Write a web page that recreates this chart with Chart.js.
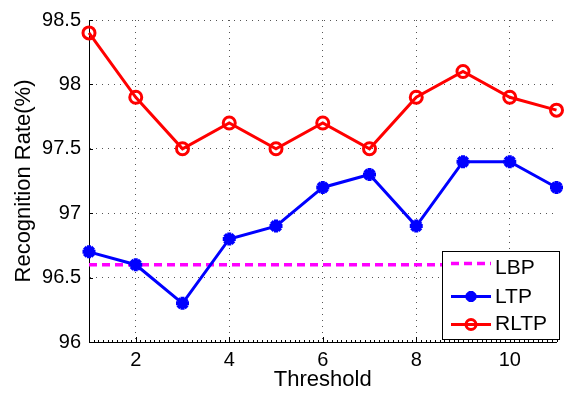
<!DOCTYPE html>
<html>
<head>
<meta charset="utf-8">
<script src="https://cdn.jsdelivr.net/npm/chart.js@4/dist/chart.umd.min.js"></script>
<style>
  html, body { margin: 0; padding: 0; background: #fff; }
  #wrap { width: 567px; height: 394px; }
</style>
</head>
<body>
<div id="wrap"><canvas id="c" width="567" height="394"></canvas></div>
<script>
const thresholds = [1, 2, 3, 4, 5, 6, 7, 8, 9, 10, 11];
const lbp  = [96.6, 96.6, 96.6, 96.6, 96.6, 96.6, 96.6, 96.6, 96.6, 96.6, 96.6];
const ltp  = [96.7, 96.6, 96.3, 96.8, 96.9, 97.2, 97.3, 96.9, 97.4, 97.4, 97.2];
const rltp = [98.4, 97.9, 97.5, 97.7, 97.5, 97.7, 97.5, 97.9, 98.1, 97.9, 97.8];
const xTicks = [2, 4, 6, 8, 10];
const yTicks = [96, 96.5, 97, 97.5, 98, 98.5];
const seriesNames = ['LBP', 'LTP', 'RLTP'];

const FONT = 'Liberation Sans, Arial, Helvetica, sans-serif';
const toXY = arr => thresholds.map((t, i) => ({ x: t, y: arr[i] }));

const axisTicksPlugin = {
  id: 'axisTicks',
  afterDatasetsDraw(chart) {
    const ctx = chart.ctx;
    const xs = chart.scales.x, ys = chart.scales.y;
    const area = chart.chartArea;
    ctx.save();
    ctx.strokeStyle = '#000';
    ctx.lineWidth = 1;
    ctx.beginPath();
    for (let k = 10; k <= 110; k++) {
      const px = Math.round(xs.getPixelForValue(k / 10)) + 0.5;
      ctx.moveTo(px, area.bottom);
      ctx.lineTo(px, area.bottom - 2);
    }
    xTicks.forEach(v => {
      const px = Math.round(xs.getPixelForValue(v)) + 0.5;
      ctx.moveTo(px, area.bottom);
      ctx.lineTo(px, area.bottom - 5);
    });
    yTicks.forEach(v => {
      const py = Math.round(ys.getPixelForValue(v)) + 0.5;
      ctx.moveTo(area.left, py);
      ctx.lineTo(area.left + 4, py);
    });
    ctx.stroke();
    ctx.restore();
  }
};

const boxedLegendPlugin = {
  id: 'boxedLegend',
  afterDatasetsDraw(chart) {
    const ctx = chart.ctx;
    const bx = 442.5, by = 251.5, bw = 117, bh = 88;
    ctx.save();
    ctx.fillStyle = '#fff';
    ctx.strokeStyle = '#000';
    ctx.lineWidth = 1;
    ctx.fillRect(bx, by, bw, bh);
    ctx.strokeRect(bx, by, bw, bh);
    const lineY = [263.5, 296.5, 324.5];
    const textY = [268.5, 297, 324.5];
    chart.data.datasets.forEach((ds, i) => {
      ctx.save();
      ctx.strokeStyle = ds.borderColor;
      ctx.lineWidth = ds.borderWidth;
      ctx.setLineDash(ds.borderDash || []);
      ctx.beginPath();
      ctx.moveTo(451, lineY[i]);
      ctx.lineTo(491, lineY[i]);
      ctx.stroke();
      ctx.setLineDash([]);
      if (ds.pointRadius > 0) {
        ctx.strokeStyle = ds.pointBorderColor;
        ctx.fillStyle = ds.pointBackgroundColor;
        ctx.lineWidth = ds.pointBorderWidth;
        Chart.helpers.drawPoint(ctx, {
          pointStyle: ds.pointStyle,
          radius: ds.pointRadius - 1,
          rotation: 0,
          borderWidth: ds.pointBorderWidth
        }, 471, lineY[i]);
        if (ds.pointStyle === 'star') {
          ctx.beginPath();
          ctx.arc(471, lineY[i], 3.5, 0, Math.PI * 2);
          ctx.fillStyle = ds.pointBorderColor;
          ctx.fill();
        }
      }
      ctx.restore();
      ctx.fillStyle = '#000';
      ctx.font = '21px ' + FONT;
      ctx.textAlign = 'left';
      ctx.textBaseline = 'middle';
      ctx.fillText(ds.label, 495, textY[i]);
    });
    ctx.restore();
  }
};

new Chart(document.getElementById('c'), {
  type: 'line',
  data: {
    datasets: [
      {
        label: seriesNames[0],
        data: toXY(lbp),
        borderColor: '#ff00ff',
        backgroundColor: '#ff00ff',
        borderWidth: 3.5,
        borderDash: [8, 5],
        pointRadius: 0,
        order: 3,
        clip: false
      },
      {
        label: seriesNames[1],
        data: toXY(ltp),
        borderColor: '#0000ff',
        backgroundColor: '#0000ff',
        borderWidth: 3,
        pointStyle: 'star',
        pointRadius: 6.5,
        pointBorderWidth: 4,
        pointBorderColor: '#0000ff',
        pointBackgroundColor: '#0000ff',
        order: 2,
        clip: false
      },
      {
        label: seriesNames[2],
        data: toXY(rltp),
        borderColor: '#ff0000',
        backgroundColor: 'rgba(0,0,0,0)',
        borderWidth: 3,
        pointStyle: 'circle',
        pointRadius: 6,
        pointBorderWidth: 3,
        pointBorderColor: '#ff0000',
        pointBackgroundColor: 'rgba(0,0,0,0)',
        order: 1,
        clip: false
      }
    ]
  },
  options: {
    responsive: false,
    animation: false,
    devicePixelRatio: 1,
    layout: { padding: { left: 0, right: 9, top: 15, bottom: 0 } },
    plugins: {
      legend: { display: false },
      tooltip: { enabled: false }
    },
    elements: { line: { tension: 0 } },
    scales: {
      x: {
        type: 'linear',
        min: 1,
        max: 11,
        afterBuildTicks: s => { s.ticks = xTicks.map(v => ({ value: v })); },
        afterFit: s => { s.height = 52; },
        grid: { color: '#555', lineWidth: 1, drawTicks: false },
        border: { display: true, color: '#000', width: 1, dash: [1, 5] },
        ticks: { color: '#000', font: { family: FONT, size: 20 }, padding: 6, maxRotation: 0,
                 callback: v => String(v) },
        title: { display: true, text: 'Threshold', color: '#000', font: { family: FONT, size: 22 }, padding: { top: 0, bottom: 1 } }
      },
      y: {
        type: 'linear',
        min: 96,
        max: 98.5,
        afterBuildTicks: s => { s.ticks = yTicks.map(v => ({ value: v })); },
        afterFit: s => { s.width = 89; },
        grid: { color: '#555', lineWidth: 1, drawTicks: false },
        border: { display: true, color: '#000', width: 1, dash: [1, 5] },
        ticks: { color: '#000', font: { family: FONT, size: 20 }, padding: 8,
                 callback: v => String(v) },
        title: { display: true, text: 'Recognition Rate(%)', color: '#000', font: { family: FONT, size: 22 }, padding: { top: 11, bottom: 0 } }
      }
    }
  },
  plugins: [axisTicksPlugin, boxedLegendPlugin]
});
</script>
</body>
</html>
